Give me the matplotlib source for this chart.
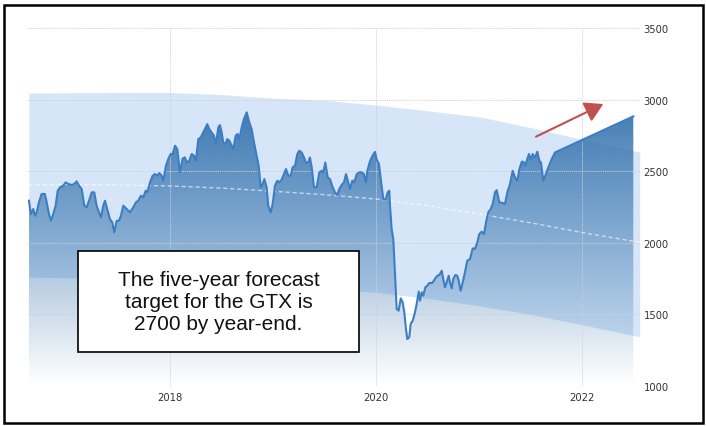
import matplotlib.pyplot as plt
import numpy as np
from matplotlib.patches import Rectangle, PathPatch

# GTX index (decimal year, value)
years = [2016.631, 2016.650, 2016.673, 2016.689, 2016.706, 2016.728, 2016.754, 2016.786,
         2016.803, 2016.825, 2016.845, 2016.867, 2016.890, 2016.910, 2016.932, 2016.964,
         2016.987, 2017.013, 2017.046, 2017.071, 2017.094, 2017.117, 2017.143, 2017.168,
         2017.191, 2017.214, 2017.240, 2017.265, 2017.288, 2017.311, 2017.330, 2017.352,
         2017.369, 2017.395, 2017.417, 2017.440, 2017.459, 2017.483, 2017.505, 2017.524,
         2017.547, 2017.580, 2017.612, 2017.644, 2017.670, 2017.692, 2017.718, 2017.741,
         2017.764, 2017.780, 2017.806, 2017.832, 2017.854, 2017.877, 2017.896, 2017.919,
         2017.935, 2017.961, 2017.983, 2018.007, 2018.026, 2018.049, 2018.071, 2018.097,
         2018.123, 2018.146, 2018.162, 2018.187, 2018.211, 2018.233, 2018.252, 2018.275,
         2018.298, 2018.323, 2018.347, 2018.362, 2018.382, 2018.405, 2018.427, 2018.447,
         2018.469, 2018.485, 2018.502, 2018.517, 2018.537, 2018.556, 2018.576, 2018.599,
         2018.615, 2018.638, 2018.657, 2018.673, 2018.696, 2018.718, 2018.745, 2018.770,
         2018.793, 2018.816, 2018.842, 2018.861, 2018.881, 2018.900, 2018.916, 2018.939,
         2018.954, 2018.978, 2018.997, 2019.019, 2019.042, 2019.061, 2019.084, 2019.100,
         2019.126, 2019.149, 2019.172, 2019.191, 2019.214, 2019.236, 2019.255, 2019.279,
         2019.301, 2019.320, 2019.343, 2019.359, 2019.376, 2019.398, 2019.424, 2019.450,
         2019.473, 2019.489, 2019.508, 2019.531, 2019.553, 2019.580, 2019.602, 2019.624,
         2019.644, 2019.667, 2019.689, 2019.709, 2019.731, 2019.748, 2019.770, 2019.789,
         2019.813, 2019.838, 2019.861, 2019.883, 2019.903, 2019.916, 2019.942, 2019.968,
         2019.990, 2020.007, 2020.029, 2020.049, 2020.071, 2020.094, 2020.113, 2020.129,
         2020.136, 2020.152, 2020.168, 2020.184, 2020.201, 2020.220, 2020.240, 2020.259,
         2020.275, 2020.291, 2020.304, 2020.323, 2020.337, 2020.356, 2020.379, 2020.395,
         2020.415, 2020.427, 2020.444, 2020.459, 2020.479, 2020.498, 2020.517, 2020.541,
         2020.556, 2020.576, 2020.595, 2020.615, 2020.638, 2020.653, 2020.670, 2020.686,
         2020.706, 2020.718, 2020.735, 2020.750, 2020.770, 2020.789, 2020.803, 2020.822,
         2020.842, 2020.864, 2020.886, 2020.913, 2020.939, 2020.961, 2020.984, 2021.003,
         2021.026, 2021.049, 2021.068, 2021.090, 2021.114, 2021.133, 2021.155, 2021.172,
         2021.197, 2021.230, 2021.252, 2021.275, 2021.301, 2021.327, 2021.350, 2021.372,
         2021.392, 2021.415, 2021.430, 2021.447, 2021.463, 2021.485, 2021.502, 2021.521,
         2021.544, 2021.566, 2021.586, 2021.602, 2021.624, 2021.650, 2021.673, 2021.706,
         2021.738, 2022.498]
values = [2294, 2201, 2236, 2189, 2213, 2283, 2341, 2341,
          2283, 2201, 2154, 2201, 2259, 2364, 2387, 2399,
          2422, 2411, 2404, 2411, 2429, 2399, 2376, 2259,
          2248, 2294, 2352, 2352, 2259, 2213, 2178, 2259,
          2294, 2224, 2166, 2143, 2073, 2154, 2154, 2189,
          2259, 2236, 2213, 2248, 2283, 2294, 2329, 2317,
          2364, 2352, 2422, 2469, 2480, 2469, 2487, 2469,
          2434, 2538, 2585, 2620, 2620, 2678, 2655, 2492,
          2589, 2596, 2561, 2573, 2620, 2608, 2573, 2724,
          2736, 2771, 2806, 2829, 2794, 2771, 2748, 2690,
          2806, 2822, 2771, 2701, 2690, 2724, 2713, 2678,
          2655, 2748, 2760, 2724, 2806, 2864, 2911, 2841,
          2794, 2701, 2608, 2538, 2387, 2411, 2445, 2387,
          2259, 2213, 2271, 2399, 2434, 2422, 2441, 2469,
          2515, 2469, 2469, 2527, 2538, 2620, 2643, 2631,
          2596, 2561, 2561, 2596, 2527, 2387, 2387, 2492,
          2503, 2492, 2561, 2457, 2445, 2387, 2352, 2334,
          2376, 2404, 2422, 2480, 2422, 2376, 2434, 2422,
          2480, 2492, 2492, 2480, 2422, 2503, 2570, 2610,
          2635, 2580, 2550, 2430, 2306, 2301, 2352, 2364,
          2259, 2096, 2026, 1794, 1538, 1526, 1612, 1584,
          1515, 1398, 1328, 1340, 1433, 1456, 1515, 1573,
          1659, 1596, 1654, 1631, 1689, 1700, 1719, 1719,
          1729, 1752, 1770, 1775, 1805, 1747, 1689, 1724,
          1770, 1724, 1682, 1747, 1775, 1770, 1735, 1665,
          1724, 1794, 1875, 1887, 1961, 1957, 2003, 2061,
          2077, 2061, 2143, 2213, 2236, 2271, 2352, 2368,
          2283, 2278, 2271, 2352, 2411, 2503, 2457, 2434,
          2515, 2566, 2566, 2538, 2573, 2620, 2580, 2620,
          2596, 2636, 2573, 2561, 2434, 2480, 2527, 2585,
          2631, 2883]

# forecast band (upper / centre / lower edge)
band_years = [2016.63, 2017.0, 2017.5, 2018.0, 2018.5, 2019.0, 2019.5, 2020.0,
              2020.5, 2021.0, 2021.5, 2022.0, 2022.56]
band_hi = [3046, 3048, 3050, 3050, 3035, 3010, 2995, 2962, 2922, 2880, 2805, 2722, 2634]
band_mid = [2405, 2408, 2404, 2397, 2382, 2360, 2336, 2306, 2260, 2201, 2140, 2072, 2003]
band_lo = [1760, 1756, 1748, 1736, 1722, 1704, 1682, 1654, 1612, 1560, 1500, 1428, 1344]

xticks = [2018, 2020, 2022]
yticks = [1000, 1500, 2000, 2500, 3000, 3500]
note = "The five-year forecast\ntarget for the GTX is\n2700 by year-end."

W, H = 706, 427
fig = plt.figure(figsize=(W / 100, H / 100), dpi=100)
ax = fig.add_axes([27 / W, 1 - 387 / H, (640 - 27) / W, (387 - 29) / H])
x0, x1 = 2016.612, 2022.563
ax.set_xlim(x0, x1)
ax.set_ylim(1000, 3500)

# band
ax.fill_between(band_years, band_lo, band_hi, color='#d6e6f8', lw=0, zorder=1)

# data area with vertical gradient
poly = ax.fill_between(years, 1000, values, color='none', lw=0)
clip = PathPatch(poly.get_paths()[0], transform=ax.transData, facecolor='none', edgecolor='none')
ax.add_patch(clip)
levels = np.linspace(3500, 1000, 300)[:, None]
grad = np.zeros((300, 1, 4))
grad[..., 0] = 50 / 255
grad[..., 1] = 112 / 255
grad[..., 2] = 172 / 255
grad[..., 3] = np.clip(0.95 * (levels - 1000) / 2000, 0, 0.95)
im = ax.imshow(grad, extent=[x0, x1, 1000, 3500], aspect='auto', zorder=2,
               interpolation='bilinear')
im.set_clip_path(clip)

ax.plot(band_years, band_mid, color='white', lw=1, ls=(0, (3, 2)), alpha=0.6, zorder=2.6)
ax.plot(years, values, color='#3d7ec2', lw=1.5, zorder=3, solid_joinstyle='round')

ax.grid(True, color='#d0d0d0', ls=(0, (1, 1)), lw=0.7)
ax.set_axisbelow(False)
for s in ax.spines.values():
    s.set_visible(False)

ax.set_xticks(xticks)
ax.set_xticklabels([str(t) for t in xticks])
ax.set_yticks(yticks)
ax.set_yticklabels([str(t) for t in yticks])
ax.yaxis.tick_right()
ax.tick_params(axis='both', length=0, labelsize=7.2, colors='#333333')
ax.tick_params(axis='y', pad=2.5)
ax.tick_params(axis='x', pad=4.5)

ax.annotate('', xy=(2022.207, 2969), xytext=(2021.553, 2741),
            arrowprops=dict(arrowstyle='-|>,head_length=0.55,head_width=0.32',
                            color='#c0504d', lw=1.5, mutation_scale=20,
                            shrinkA=0, shrinkB=0), zorder=5)

# note box
fig.add_artist(Rectangle((78 / W, 1 - 353 / H), 281 / W, 101 / H, transform=fig.transFigure,
                         facecolor='white', edgecolor='black', lw=1.2, zorder=6))
fig.text(218.5 / W, 1 - 302.5 / H, note, ha='center', va='center', fontsize=15,
         family='Liberation Sans', linespacing=1.2, color='#111111', zorder=7)

# outer frame
fig.add_artist(Rectangle((4 / W, 1 - 424 / H), 699 / W, 418 / H, transform=fig.transFigure,
                         facecolor='none', edgecolor='black', lw=1.8, zorder=8))

fig.savefig('out.png', dpi=100)
